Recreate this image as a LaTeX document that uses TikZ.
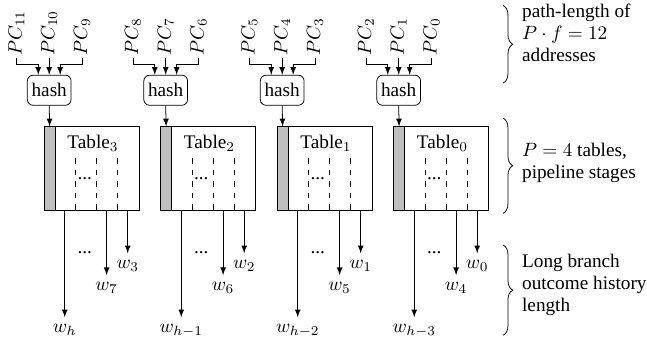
\documentclass[tikz,border=0pt]{standalone}
\usepackage[no-math]{fontspec}
\setmainfont{Liberation Serif}
\usepackage{tikz}
\tikzset{
  >=latex,
}
\tikzstyle{hashbox}=[draw,rounded corners=3pt,minimum width=.8cm,minimum height=.55cm,inner sep=1pt]
\tikzstyle{tablebox}=[draw,anchor=south west,minimum width=1.74cm,minimum height=1.535cm,inner sep=0pt]
\tikzstyle{greybar}=[draw,fill=gray!50,anchor=south west,minimum width=.2cm,minimum height=1.535cm,inner sep=0pt]
\tikzstyle{pclabel}=[rotate=90,anchor=west,inner sep=1pt]
\tikzstyle{slot}=[dashed]
\tikzstyle{bracedeco}=[decorate,decoration={brace,amplitude=5pt}]
\tikzstyle{note}=[anchor=west,align=left,inner sep=0pt,font=\fontsize{10}{11.5}\selectfont]
\usetikzlibrary{decorations.pathreplacing}

\begin{document}
\begin{tikzpicture}
  \useasboundingbox (0,0) rectangle (11.83,6.20);
  \foreach \i in {0,...,3}{
    \pgfmathsetmacro{\x}{0.8+2.13*\i}
    \pgfmathtruncatemacro{\tn}{3-\i}
    \pgfmathtruncatemacro{\pcA}{3*\tn+2}
    \pgfmathtruncatemacro{\pcB}{3*\tn+1}
    \pgfmathtruncatemacro{\pcC}{3*\tn}
    \pgfmathtruncatemacro{\wl}{\tn+4}
    % addresses into the hash
    \node[hashbox] (hash\i) at (\x+.1,4.55) {hash};
    \node[pclabel] (pca\i) at (\x-.5,5.14) {$PC_{\pcA}$};
    \node[pclabel] (pcb\i) at (\x+.1,5.14) {$PC_{\pcB}$};
    \node[pclabel] (pcc\i) at (\x+.7,5.14) {$PC_{\pcC}$};
    \draw[->] (pca\i.west) -- ++(0,-.11) -| ([xshift=-.2cm]hash\i.north);
    \draw[->] (pcb\i.west) -- (hash\i.north);
    \draw[->] (pcc\i.west) -- ++(0,-.11) -| ([xshift=.2cm]hash\i.north);
    % table
    \node[tablebox] (tab\i) at (\x,2.34) {};
    \node[greybar] (bar\i) at (\x,2.34) {};
    \draw[->] (hash\i.south) -- (bar\i.north);
    \node (name\i) at (\x+.9,3.58) {Table$_{\tn}$};
    \foreach \d in {.585,.97,1.35}
      \draw[slot] (\x+\d,3.31) -- (\x+\d,2.34);
    \node[anchor=base] (dots\i) at (\x+.75,2.92) {...};
    % weights
    \coordinate (wa\i) at (\x+1.535,1.57);
    \coordinate (wb\i) at (\x+1.15,1.17);
    \coordinate (wc\i) at (\x+.384,.40);
    \draw[->] (wa\i |- tab\i.south) -- (wa\i) node[below] (lwa\i) {$w_{\tn}$};
    \draw[->] (wb\i |- tab\i.south) -- (wb\i) node[below] (lwb\i) {$w_{\wl}$};
    \draw[->] (wc\i |- tab\i.south) -- (wc\i) node[below] (lwc\i) {\ifnum\i=0 $w_h$\else $w_{h-\i}$\fi};
    \node[anchor=base] (odots\i) at (\x+.75,1.57) {...};
  }
  % braces on the right
  \draw[bracedeco] (9.2,6.10) -- (9.2,4.68);
  \draw[bracedeco] (9.2,4.04) -- (9.2,2.30);
  \draw[bracedeco] (9.2,1.72) -- (9.2,.07);
  \node[note] (note1) at (9.54,5.60) {path-length of\\$P\cdot f=12$\\addresses};
  \node[note] (note2) at (9.54,3.22) {$P=4$ tables,\\pipeline stages};
  \node[note] (note3) at (9.54,.99) {Long branch\\outcome history\\length};
\end{tikzpicture}
\end{document}
